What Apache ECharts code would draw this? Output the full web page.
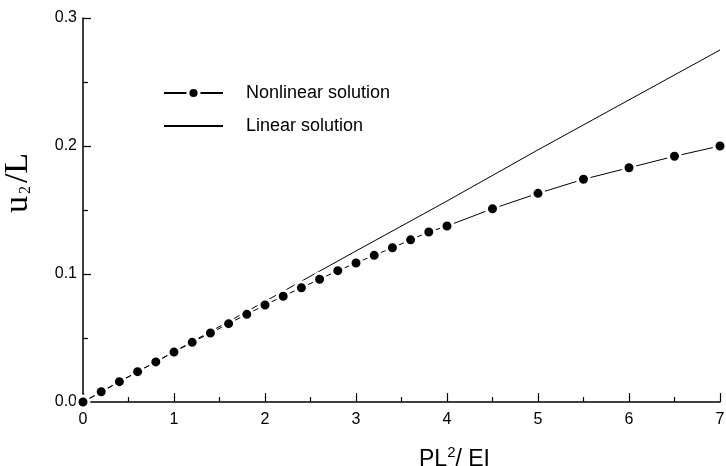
<!DOCTYPE html>
<html>
<head>
<meta charset="utf-8">
<script src="https://cdn.jsdelivr.net/npm/echarts@6/dist/echarts.min.js"></script>
<style>
  html, body { margin: 0; padding: 0; background: #fff; }
  #chart { width: 726px; height: 466px; }
</style>
</head>
<body>
<div id="chart"></div>
<script>
// load parameter PL^2/EI
var loadNonlinear = [0, 0.2, 0.4, 0.6, 0.8, 1.0, 1.2, 1.4, 1.6, 1.8, 2.0, 2.2, 2.4, 2.6, 2.8,
  3.0, 3.2, 3.4, 3.6, 3.8, 4.0, 4.5, 5.0, 5.5, 6.0, 6.5, 7.0];
// u2/L
var nonlinearU = [0, 0.008, 0.0159, 0.0237, 0.0313, 0.039, 0.0466, 0.0539, 0.0612, 0.0685, 0.0758,
  0.0826, 0.0893, 0.0959, 0.1026, 0.1086, 0.1146, 0.1205, 0.1267, 0.1328, 0.1375, 0.151, 0.163,
  0.174, 0.183, 0.192, 0.2];
var loadLinear = [0, 1, 2, 3, 4, 5, 6, 7];
var linearU = [0, 0.0393, 0.0786, 0.118, 0.157, 0.197, 0.236, 0.275];

function pairs(xs, ys) {
  var out = [];
  for (var i = 0; i < xs.length; i++) out.push([xs[i], ys[i]]);
  return out;
}

var myChart = echarts.init(document.getElementById('chart'), null, { renderer: 'canvas' });
var axisFont = 'Arial, "Liberation Sans", sans-serif';
var serifFont = '"Liberation Serif", "Times New Roman", serif';

var option = {
  animation: false,
  backgroundColor: '#fff',
  grid: { left: 83, right: 6, top: 18, bottom: 64, containLabel: false, outerBoundsMode: 'none' },
  legend: {
    orient: 'vertical',
    left: 163,
    top: 83,
    padding: 0,
    itemWidth: 59,
    itemHeight: 14,
    itemGap: 13,
    data: [
      { name: 'Nonlinear solution', itemStyle: { borderWidth: 3, borderColor: '#fff' } },
      { name: 'Linear solution', itemStyle: { opacity: 0 } }
    ],
    textStyle: {
      fontFamily: axisFont,
      fontSize: 18,
      color: '#000',
      lineHeight: 20,
      padding: [0, 0, 0, 18]
    }
  },
  xAxis: {
    type: 'value',
    min: 0,
    max: 7,
    interval: 1,
    name: 'PL{sup|2}/ EI',
    nameLocation: 'middle',
    nameGap: 43,
    nameTextStyle: {
      fontFamily: axisFont,
      fontSize: 23,
      color: '#000',
      padding: [0, 0, 0, 106],
      rich: {
        sup: { fontFamily: axisFont, fontSize: 15, verticalAlign: 'top', padding: [0, 0, 14, 0] }
      }
    },
    axisLine: { lineStyle: { color: '#000', width: 1.5 } },
    axisTick: { inside: true, length: 9, lineStyle: { color: '#000', width: 1.2 } },
    minorTick: { show: true, splitNumber: 2, length: 5, lineStyle: { color: '#000', width: 1.2 } },
    axisLabel: { fontFamily: axisFont, fontSize: 16, color: '#000', margin: 10 },
    splitLine: { show: false }
  },
  yAxis: {
    type: 'value',
    min: 0,
    max: 0.3,
    interval: 0.1,
    name: '{u|u}{sub|2}{u|/L}',
    nameLocation: 'middle',
    nameRotate: 90,
    nameGap: 48,
    nameTextStyle: {
      padding: [0, 0, 0, 54],
      rich: {
        u: { fontFamily: serifFont, fontSize: 34, color: '#000' },
        sub: { fontFamily: serifFont, fontSize: 16, color: '#000', padding: [16, 3, 0, 2] }
      }
    },
    axisLine: { show: true, lineStyle: { color: '#000', width: 1.5 } },
    axisTick: { show: true, inside: true, length: 8, lineStyle: { color: '#000', width: 1.2 } },
    minorTick: { show: true, splitNumber: 2, length: 5, lineStyle: { color: '#000', width: 1.2 } },
    axisLabel: {
      fontFamily: axisFont, fontSize: 16, color: '#000', margin: 6,
      formatter: function (v) { return v.toFixed(1); }
    },
    splitLine: { show: false }
  },
  series: [
    {
      name: 'Nonlinear solution',
      type: 'line',
      data: pairs(loadNonlinear, nonlinearU),
      symbol: 'circle',
      symbolSize: 12,
      showAllSymbol: true,
      itemStyle: { color: '#000', borderColor: '#fff', borderWidth: 3 },
      lineStyle: { color: '#000', width: 1 },
      z: 3
    },
    {
      name: 'Linear solution',
      type: 'line',
      data: pairs(loadLinear, linearU),
      symbol: 'none',
      itemStyle: { color: '#000' },
      lineStyle: { color: '#000', width: 1 },
      z: 2
    }
  ]
};
myChart.setOption(option);
</script>
</body>
</html>
